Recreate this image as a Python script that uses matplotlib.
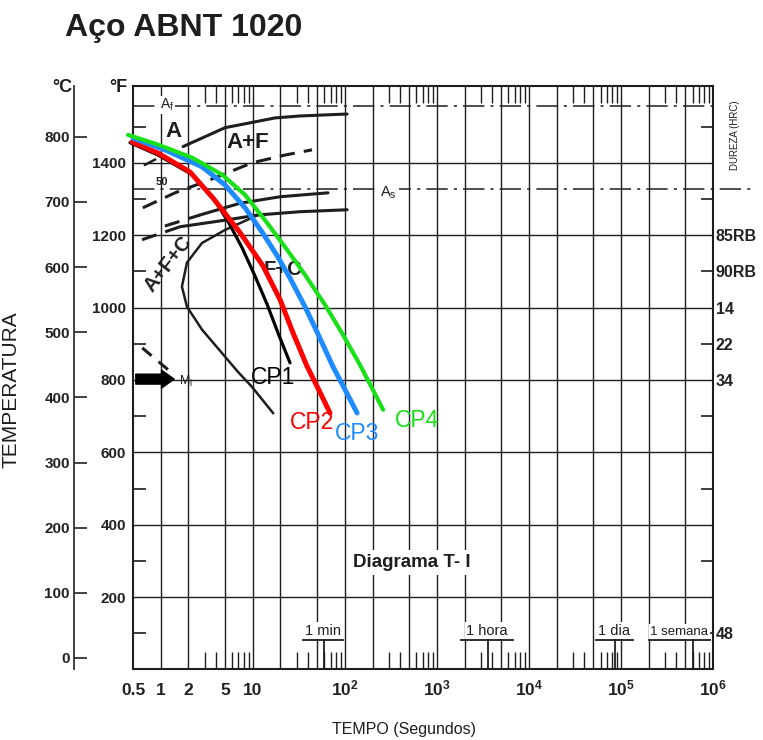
import numpy as np
import matplotlib.pyplot as plt
from matplotlib.ticker import FixedLocator, NullFormatter

# --- data (time in s, temperature in degC) ---
cp1_t = [0.464, 0.935, 2.19, 3.61, 5.39, 7.64, 10.6, 14.3, 18.8, 25.4]
cp1_T = [791, 772, 742, 709, 670, 630, 586, 543, 499, 453]
cp2_t = [0.488, 0.935, 2.08, 3.70, 7.27, 12.9, 19.8, 27.4, 38.8, 53.7, 69]
cp2_T = [792, 775, 746, 706, 653, 602, 550, 499, 448, 408, 376]
cp3_t = [0.5, 1.11, 2.81, 5.0, 8.24, 12.6, 18.3, 25.4, 37.0, 51.2, 74.5, 103, 136]
cp3_T = [798, 780, 754, 726, 691, 654, 618, 583, 539, 497, 447, 409, 376]
cp4_t = [0.441, 0.935, 2.19, 4.63, 8.24, 13.6, 22.4, 37.0, 61.0, 95.6, 146, 203, 261]
cp4_T = [803, 788, 768, 742, 711, 672, 631, 588, 542, 496, 450, 411, 381]

# T-I diagram lines
fs_t = [1.75, 5.0, 17.5, 32.6, 106]          # ferrite start
fs_T = [785, 814, 829, 832, 835]
f50_t = [0.64, 1.43, 3.43, 9.8, 22.4, 44]    # 50 % line (dashed)
f50_T = [691, 714, 734, 760, 772, 780]
pf_lead_t = [1.11, 2.67]
pf_lead_T = [663, 680]
pf_t = [2.67, 7.27, 19.8, 65.7]
pf_T = [680, 698, 708, 714]
pe_lead_t = [0.626, 1.63]
pe_lead_T = [642, 662]
pe_t = [1.63, 5.0, 11.4, 32.6, 106]
pe_T = [662, 672, 680, 685, 688]
nose_t = [11.4, 5.0, 2.81, 1.93, 1.70, 1.93, 2.81, 4.63, 6.92, 9.82, 16.6]
nose_T = [680, 657, 637, 607, 570, 539, 504, 468, 439, 416, 376]
ms_t = [0.63, 1.26]
ms_T = [476, 440]
mark50_t = [0.675, 0.867]
mark50_T = [757, 765]
A3_C = 848
A1_C = 720
MS_C = 428

grid_times = [1, 2, 5, 10, 20, 50, 100, 200, 500, 1e3, 2e3, 5e3,
              1e4, 2e4, 5e4, 1e5, 2e5, 5e5]
minor_times = [m * 10.0 ** k for k in range(0, 6) for m in (3, 4, 6, 7, 8, 9)]
x_ticks = [0.5, 1, 2, 5, 10, 1e2, 1e3, 1e4, 1e5, 1e6]
x_labels = ['0.5', '1', '2', '5', '10', r'$\mathregular{10^2}$', r'$\mathregular{10^3}$',
            r'$\mathregular{10^4}$', r'$\mathregular{10^5}$', r'$\mathregular{10^6}$']
c_ticks = [0, 100, 200, 300, 400, 500, 600, 700, 800]
f_major = [200, 400, 600, 800, 1000, 1200, 1400]
f_minor = [100, 300, 500, 700, 900, 1100, 1300, 1500]
hard_f = [1200, 1100, 1000, 900, 800, 100]
hard_labels = ['85RB', '90RB', '14', '22', '34', '48']

mark_t = [60, 3600, 86400, 604800]
mark_labels = ['1 min', '1 hora', '1 dia', '1 semana']
mark_lx = [58, 3500, 85000, 4.3e5]
mark_hw = [0.22, 0.28, 0.2, 0.33]


def c2f(c):
    return np.asarray(c) * 9 / 5 + 32


def f2c(f):
    return (np.asarray(f) - 32) * 5 / 9


plt.rcParams['font.family'] = ['Liberation Sans', 'DejaVu Sans']
plt.rcParams['mathtext.fontset'] = 'custom'
plt.rcParams['mathtext.rm'] = 'Liberation Sans:bold'
plt.rcParams['mathtext.it'] = 'Liberation Sans:italic'
plt.rcParams['mathtext.bf'] = 'Liberation Sans:bold'

INK = '#1e1e1e'
W, H = 763, 740
fig = plt.figure(figsize=(W / 100, H / 100), dpi=100)
ax = fig.add_axes([133 / W, 71 / H, 580 / W, 583 / H])
ax.set_xscale('log')
ax.set_xlim(0.5, 1e6)
ax.set_ylim(-17, 878)

# grid
for t in grid_times:
    ax.axvline(t, color=INK, lw=1.0, zorder=1)
for f in f_major:
    ax.axhline(f2c(f), color=INK, lw=1.0, zorder=1)

# frame
for s in ['top', 'right', 'bottom']:
    ax.spines[s].set_linewidth(1.5)
    ax.spines[s].set_color(INK)
ax.spines['left'].set_position(('outward', 42.5))
ax.spines['left'].set_color('#333333')
ax.spines['left'].set_linewidth(1.3)
ax.axvline(0.5, color=INK, lw=1.5, clip_on=False, zorder=3)

# degC axis
ax.set_yticks(c_ticks)
ax.tick_params(axis='y', direction='in', length=9, width=1.2, labelsize=11, pad=3,
               colors='#222222')
for lab in ax.get_yticklabels():
    lab.set_fontweight('bold')

# time axis
ax.set_xticks(x_ticks, x_labels)
ax.tick_params(axis='x', which='major', length=0, pad=19, labelsize=12.5, colors='#222222')
for lab in ax.get_xticklabels():
    lab.set_fontweight('bold')
    lab.set_verticalalignment('baseline')
ax.xaxis.set_minor_locator(FixedLocator(minor_times))
ax.xaxis.set_minor_formatter(NullFormatter())
ax.tick_params(axis='x', which='minor', direction='in', top=True, bottom=True,
               length=12, width=1.0, color=INK)

# degF axis
secF = ax.secondary_yaxis('left', functions=(c2f, f2c))
secF.set_yticks(f_major)
secF.yaxis.set_minor_locator(FixedLocator(f_minor))
secF.yaxis.set_minor_formatter(NullFormatter())
secF.tick_params(which='major', length=0, pad=5, labelsize=11, colors='#222222')
secF.tick_params(which='minor', direction='in', length=9, width=1.2, color=INK)
secF.spines['left'].set_visible(False)
for lab in secF.get_yticklabels():
    lab.set_fontweight('bold')

# hardness axis
secR = ax.secondary_yaxis('right', functions=(c2f, f2c))
secR.set_yticks(hard_f, hard_labels)
secR.yaxis.set_minor_locator(FixedLocator(f_minor))
secR.yaxis.set_minor_formatter(NullFormatter())
secR.yaxis.remove_overlapping_locs = False
secR.tick_params(which='major', length=0, pad=2, labelsize=11.5, colors='#222222')
secR.tick_params(which='minor', direction='in', length=9, width=1.2, color=INK)
secR.spines['right'].set_visible(False)
for lab in secR.get_yticklabels():
    lab.set_fontweight('bold')

# critical temperatures
dashdot = (0, (14, 4, 2, 4))
ax.plot([0.5, 1e6], [A3_C, A3_C], color=INK, lw=1.1, ls=dashdot, zorder=2)
ax.plot([0.5, 2.6e6], [A1_C, A1_C], color=INK, lw=1.1, ls=dashdot, zorder=2, clip_on=False)

# T-I lines
kw = dict(color=INK, lw=2.2, zorder=4, solid_capstyle='round')
ax.plot(fs_t, fs_T, **kw)
ax.plot(f50_t, f50_T, dashes=(5, 3), **kw)
ax.plot(pf_lead_t, pf_lead_T, dashes=(5, 3), **kw)
ax.plot(pf_t, pf_T, **kw)
ax.plot(pe_lead_t, pe_lead_T, dashes=(5, 3), **kw)
ax.plot(pe_t, pe_T, **kw)
ax.plot(nose_t, nose_T, color=INK, lw=1.8, zorder=4)
ax.plot(ms_t, ms_T, dashes=(4, 3), **kw)
ax.plot(mark50_t, mark50_T, color=INK, lw=1.8, zorder=4)
ax.annotate('', xy=(1.5, MS_C), xytext=(0.5, MS_C),
            arrowprops=dict(arrowstyle='simple,head_length=0.7,head_width=1.0,tail_width=0.55',
                            fc='k', ec='k', mutation_scale=13), zorder=5)

# region labels
ax.text(1.36, 808, 'A', fontsize=16, color=INK, ha='center', va='center', zorder=6,
        weight='bold')
ax.text(1.17, 849, r'$\mathregular{A_f}$', fontsize=10, color=INK, ha='center', va='center',
        zorder=6, bbox=dict(fc='white', ec='none', pad=0.5))
ax.text(8.85, 791, 'A+F', fontsize=16, color=INK, ha='center', va='center', zorder=6,
        weight='bold')
ax.text(1.03, 731, '50', fontsize=8, color=INK, ha='center', va='center', zorder=6,
        weight='bold')
ax.text(1.2, 604, 'A+F+C', fontsize=14.5, color=INK, ha='center', va='center', rotation=52,
        zorder=6, weight='bold')
ax.text(21.3, 596, 'F+C', fontsize=14.5, color=INK, ha='center', va='center', zorder=3,
        weight='bold')
ax.text(296, 714, r'$\mathregular{A_s}$', fontsize=10.5, color=INK, ha='center', va='center',
        zorder=6, bbox=dict(fc='white', ec='none', pad=1.5))
ax.text(1.9, MS_C - 3, r'$\mathregular{M_i}$', fontsize=9, color=INK, ha='center',
        va='center', zorder=6)
ax.text(540, 147, 'Diagrama T- I', fontsize=13.5, color=INK, weight='bold', ha='center',
        va='center', zorder=6, bbox=dict(fc='white', ec='none', pad=3))

# time markers
mark_fs = [10.5, 10.5, 10.5, 9.5]
for t, lab, lx, hw, fs in zip(mark_t, mark_labels, mark_lx, mark_hw, mark_fs):
    ax.text(lx, 31, lab, fontsize=fs, color=INK, ha='center', va='bottom', zorder=6,
            bbox=dict(fc='white', ec='none', pad=1.0))
    ax.plot([lx / 10 ** hw, lx * 10 ** hw], [27, 27], color=INK, lw=1.3, zorder=7)
    ax.plot([t, t], [27, -17], color=INK, lw=1.3, zorder=7)

# cooling curves
cp_kw = dict(solid_capstyle='round', solid_joinstyle='round', zorder=8)
ax.plot(cp1_t, cp1_T, color='black', lw=2.3, clip_on=False, **cp_kw)
ax.plot(cp2_t, cp2_T, color='#ff0000', lw=3.6, clip_on=False, **cp_kw)
ax.plot(cp3_t, cp3_T, color='#1e8cff', lw=3.6, clip_on=False, **cp_kw)
ax.plot(cp4_t, cp4_T, color='#19e019', lw=3.0, clip_on=False, **cp_kw)

cp_font = ['Liberation Sans Narrow', 'Liberation Sans']
ax.text(16.6, 431, 'CP1', color='black', fontsize=16.5, family=cp_font, ha='center',
        va='center', zorder=9)
ax.text(44, 361, 'CP2', color='#ff0000', fontsize=16.5, family=cp_font, ha='center',
        va='center', zorder=9)
ax.text(136, 345, 'CP3', color='#1e8cff', fontsize=16.5, family=cp_font, ha='center',
        va='center', zorder=9)
ax.text(610, 364, 'CP4', color='#19e019', fontsize=16.5, family=cp_font, ha='center',
        va='center', zorder=9)

# axis titles
ax.set_ylabel('TEMPERATURA', fontsize=15, color=INK)
ax.yaxis.set_label_coords(-(133 - 20) / 580, (669 - 390) / 583)
ax.set_xlabel('TEMPO (Segundos)', fontsize=11.5, color=INK)
ax.xaxis.set_label_coords((404 - 133) / 580, -(722 - 669) / 583)
ax.text((62 - 133) / 580, (669 - 88) / 583, '°C', transform=ax.transAxes, fontsize=13,
        weight='bold', color=INK, ha='center', va='center')
ax.text((118 - 133) / 580, (669 - 88) / 583, '°F', transform=ax.transAxes, fontsize=13,
        weight='bold', color=INK, ha='center', va='center')
fig.text(735 / W, 1 - 135 / H, 'DUREZA (HRC)', rotation=90, fontsize=7, color=INK,
         ha='center', va='center')
fig.text(65 / W, 1 - 28 / H, 'Aço ABNT 1020', fontsize=23, weight='bold', color=INK,
         ha='left', va='center')

fig.savefig('out.png', dpi=100)
